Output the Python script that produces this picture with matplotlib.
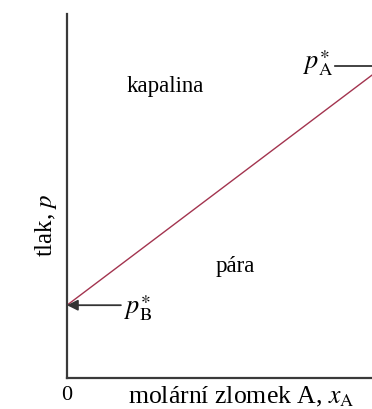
import matplotlib
matplotlib.use('Agg')
import matplotlib.pyplot as plt

# raoult's law, ideal solution: p goes linearly from pB* to pA*
x_A = [0.0, 1.0]
p_total = [0.20, 0.857]
p_B_star = 0.20
p_A_star = 0.857

region_labels = ['kapalina', 'pára']

plt.rcParams['font.family'] = 'Liberation Serif'
plt.rcParams['mathtext.fontset'] = 'stix'

W, H = 372, 409
fig = plt.figure(figsize=(W / 100, H / 100), dpi=100)
# axes run past the right edge of the picture, like the cropped original
ax = fig.add_axes([67 / W, 31 / H, (384 - 67) / W, (378 - 14) / H])
ax.set_xlim(0, 1)
ax.set_ylim(0, 1)

ax.plot(x_A, p_total, color='#a3344f', lw=1.0, solid_capstyle='butt')

for s in ['top', 'right']:
	ax.spines[s].set_visible(False)
for s in ['left', 'bottom']:
	ax.spines[s].set_color('#3a3a3a')
	ax.spines[s].set_linewidth(1.6)

ax.set_yticks([])
ax.set_xticks([0])
ax.set_xticklabels(['0'], fontsize=16)
ax.tick_params(axis='x', length=0, pad=6)

# labels of the two regions
ax.text(0.31, 0.80, region_labels[0], fontsize=16.5, ha='center', va='center')
ax.text(0.53, 0.305, region_labels[1], fontsize=16.5, ha='center', va='center')

# pB* with arrow pointing at the axis
ax.annotate('', xy=(0.0, p_B_star), xytext=(0.17, p_B_star),
	arrowprops=dict(arrowstyle='-|>', color='#333333', lw=1.3, mutation_scale=16, shrinkA=0, shrinkB=0))
ax.text(0.18, p_B_star - 0.008, r'$p_{\mathrm{B}}^{\ast}$', fontsize=19, ha='left', va='center')

# pA* with a line to the right axis
ax.plot([0.845, 1.0], [p_A_star, p_A_star], color='#222222', lw=1.2)
ax.text(0.84, p_A_star + 0.008, r'$p_{\mathrm{A}}^{\ast}$', fontsize=19, ha='right', va='center')

fig.text(241 / W, 1 - 397 / H, r'molární zlomek A, $x_{\mathrm{A}}$', fontsize=18.5, ha='center', va='center')
fig.text(46 / W, 1 - 225 / H, r'tlak, $p$', fontsize=18, ha='center', va='center', rotation=90)

plt.savefig('out.png', dpi=100)
plt.close()
